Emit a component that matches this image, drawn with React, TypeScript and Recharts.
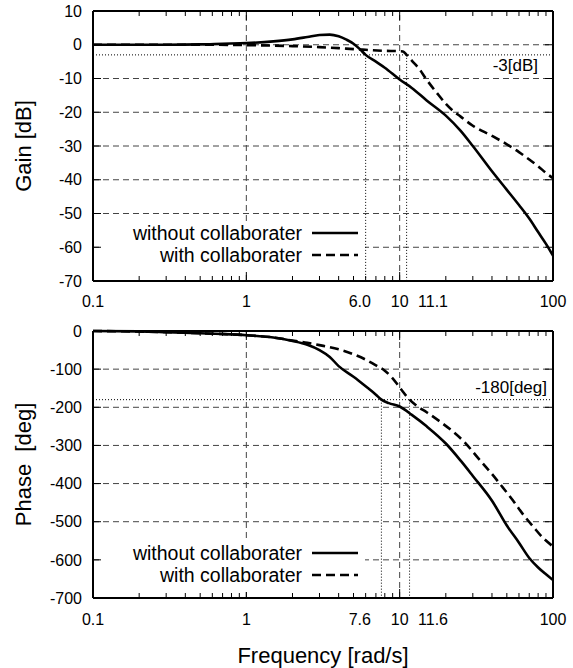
import React from "react";
import { CartesianGrid, Legend, Line, LineChart, ReferenceLine, XAxis, YAxis } from "recharts";

const FONT = '"Liberation Sans", Arial, Helvetica, sans-serif';

// log frequency axis [rad/s]
const freqDomain = [0.1, 100];
const decadeTicks = [1, 10];
const minorFreqTicks = [0.2, 0.3, 0.4, 0.5, 0.6, 0.7, 0.8, 0.9, 2, 3, 4, 5, 6, 7, 8, 9, 20, 30, 40, 50, 60, 70, 80, 90];
const seriesNames = ["without collaborater", "with collaborater"];

// gain panel
const gainTicks = [10, 0, -10, -20, -30, -40, -50, -60, -70];
const gainLabelPos = [0.1, 1, 5.5, 10, 16.5, 100];
const gainLabels = ["0.1", "1", "6.0", "10", "11.1", "100"];
const gainRef = -3;
const gainCrossings = [6.0, 11.1];

const gainFreqWithout = [0.1, 0.2, 0.3, 0.5, 0.7, 1, 1.5, 2, 2.5, 3, 3.5, 4, 4.5, 5, 5.5, 6, 7, 8, 10, 12, 15, 20, 25, 30, 40, 50, 60, 70, 80, 90, 100];
const gainWithout = [0, 0, 0, 0.1, 0.3, 0.5, 1.0, 1.6, 2.3, 2.9, 3.0, 2.5, 1.5, 0.3, -1.3, -3, -5, -6.8, -10.3, -12.8, -16.5, -21, -25.5, -30, -37.5, -43, -47.5, -51.5, -55.5, -59, -62.5];

const gainFreqWith = [0.1, 0.5, 1, 2, 3, 4, 5, 6, 8, 10, 10.5, 11.1, 12, 13.6, 14.7, 17.5, 20, 22.3, 25, 30, 40, 50, 60, 70, 80, 90, 100];
const gainWith = [0, 0, -0.1, -0.4, -0.7, -1.0, -1.3, -1.5, -1.8, -1.9, -2.0, -3.0, -4.7, -7.5, -9.8, -14.3, -17.5, -19.6, -21.3, -24, -27, -29.5, -31.8, -34, -36, -38, -39.5];

// phase panel
const phaseTicks = [0, -100, -200, -300, -400, -500, -600, -700];
const phaseLabelPos = [0.1, 1, 5.5, 10, 16.5, 100];
const phaseLabels = ["0.1", "1", "7.6", "10", "11.6", "100"];
const phaseRef = -180;
const phaseCrossings = [7.6, 11.6];

const phaseFreqWithout = [0.1, 0.2, 0.3, 0.5, 0.7, 1, 1.5, 2, 2.5, 3, 3.5, 4, 5, 6, 7, 7.6, 8.5, 10, 12, 15, 20, 25, 30, 40, 50, 60, 70, 80, 90, 100];
const phaseWithout = [0, -1, -3, -6, -8, -11, -17, -26, -36, -50, -68, -92, -120, -145, -167, -180, -189, -198, -220, -250, -295, -340, -380, -445, -510, -555, -595, -620, -638, -653];

const phaseFreqWith = [0.1, 0.3, 0.5, 1, 1.5, 2, 2.5, 3, 4, 5, 6, 7, 8, 9, 10, 11.6, 13, 15, 18.4, 22, 27, 32, 40, 47, 55, 65, 75, 85, 100];
const phaseWith = [0, -3, -6, -11, -17, -25, -31, -37, -48, -61, -75, -90, -104, -124, -148, -180, -197, -213, -238, -262, -295, -330, -375, -410, -445, -485, -515, -540, -565];

const zip = (fs: number[], vs: number[]) => fs.map((f, i) => ({ f, v: vs[i] }));

const PLOT_W = 460;
const X_MARGIN = 15;
const Y_MARGIN = 11;
const logAxis = {
  type: "number" as const,
  scale: "log" as const,
  domain: freqDomain,
  allowDataOverflow: true,
  dataKey: "f",
  interval: 0 as const,
};
const frame = { stroke: "#000", strokeWidth: 2 };
const dotted = { stroke: "#000", strokeWidth: 1, strokeDasharray: "1 2" };
const gridStyle = { stroke: "#444", strokeWidth: 1, strokeDasharray: "6 4" };

function LegendBox({ payload }: any) {
  const rows = [...(payload || [])].sort(
    (a: any, b: any) => seriesNames.indexOf(a.value) - seriesNames.indexOf(b.value)
  );
  return (
    <div style={{ background: "#fff", width: 262, height: 50, fontFamily: FONT, fontSize: 19.5, color: "#000" }}>
      {rows.map((entry: any) => (
        <div
          key={entry.value}
          style={{ display: "flex", alignItems: "center", justifyContent: "flex-end", height: 22, paddingRight: 7 }}
        >
          <span style={{ marginRight: 10, lineHeight: "22px", whiteSpace: "nowrap" }}>{entry.value}</span>
          <svg width={46} height={10}>
            <line x1={0} x2={46} y1={5} y2={5} stroke="#000" strokeWidth={2.6} strokeDasharray={entry.payload?.strokeDasharray} />
          </svg>
        </div>
      ))}
    </div>
  );
}

type PanelProps = {
  height: number;
  plotHeight: number;
  xAxisHeight: number;
  bottomMargin: number;
  tickMargin: number;
  yTicks: number[];
  labelPos: number[];
  labels: string[];
  yTitle: string;
  xTitle?: string;
  solid: { f: number; v: number }[];
  dashed: { f: number; v: number }[];
  refY: number;
  refText: string;
  refBelow: boolean;
  crossings: number[];
};

function BodePanel(p: PanelProps) {
  const yMin = p.yTicks[p.yTicks.length - 1];
  const yMax = p.yTicks[0];
  const yDomain = [yMin, yMax];
  const xTicks = Array.from(new Set([...p.labelPos, ...minorFreqTicks, ...decadeTicks])).sort((a, b) => a - b);

  // frequency tick: label (if any) plus gnuplot-style inward marks on bottom and top edges
  const FreqTick = (props: any) => {
    const v = props.payload.value;
    const base = props.y - p.tickMargin;
    const top = base - p.plotHeight;
    const len = decadeTicks.includes(v) ? 9 : minorFreqTicks.includes(v) ? 5 : 0;
    const li = p.labelPos.indexOf(v);
    return (
      <g>
        {len > 0 && <line x1={props.x} x2={props.x} y1={base} y2={base - len} stroke="#000" strokeWidth={1} />}
        {len > 0 && <line x1={props.x} x2={props.x} y1={top} y2={top + len} stroke="#000" strokeWidth={1} />}
        {li >= 0 && (
          <text x={props.x} y={props.y} dy="0.71em" textAnchor="middle" fontFamily={FONT} fontSize={16} fill="#000">
            {p.labels[li]}
          </text>
        )}
      </g>
    );
  };

  // value tick: label plus inward marks on left and right edges
  const ValueTick = (props: any) => {
    const v = props.payload.value;
    const left = props.x + Y_MARGIN;
    const inner = v !== yMin && v !== yMax;
    return (
      <g>
        {inner && <line x1={left} x2={left + 8} y1={props.y} y2={props.y} stroke="#000" strokeWidth={1} />}
        {inner && <line x1={left + PLOT_W - 8} x2={left + PLOT_W} y1={props.y} y2={props.y} stroke="#000" strokeWidth={1} />}
        <text x={props.x} y={props.y} dy="0.355em" textAnchor="end" fontFamily={FONT} fontSize={16} fill="#000">
          {v}
        </text>
      </g>
    );
  };

  return (
    <LineChart width={573} height={p.height} margin={{ top: 11, right: 20, bottom: p.bottomMargin, left: 33 }}>
      <CartesianGrid vertical={false} {...gridStyle} />
      {decadeTicks.map((f) => (
        <ReferenceLine key={`g${f}`} x={f} {...gridStyle} />
      ))}
      <XAxis
        {...logAxis}
        ticks={xTicks}
        height={p.xAxisHeight}
        tickLine={false}
        tickSize={0}
        tickMargin={p.tickMargin}
        axisLine={frame}
        tick={FreqTick}
        label={
          p.xTitle
            ? (props: any) => (
                <text
                  x={props.viewBox.x + props.viewBox.width / 2}
                  y={props.viewBox.y + 65}
                  textAnchor="middle"
                  fontFamily={FONT}
                  fontSize={22}
                  fill="#000"
                >
                  {p.xTitle}
                </text>
              )
            : undefined
        }
      />
      <YAxis
        type="number"
        domain={yDomain}
        ticks={p.yTicks}
        interval={0}
        width={60}
        tickLine={false}
        tickSize={0}
        tickMargin={Y_MARGIN}
        axisLine={frame}
        tick={ValueTick}
        label={(props: any) => {
          const cx = 31;
          const cy = props.viewBox.y + props.viewBox.height / 2;
          return (
            <text
              transform={`translate(${cx},${cy}) rotate(-90)`}
              textAnchor="middle"
              fontFamily={FONT}
              fontSize={22}
              fill="#000"
              style={{ whiteSpace: "pre" }}
            >
              {p.yTitle}
            </text>
          );
        }}
      />

      {/* frame: top and right edges */}
      <ReferenceLine y={yMax} {...frame} />
      <ReferenceLine x={freqDomain[1]} {...frame} />

      <ReferenceLine
        y={p.refY}
        {...dotted}
        label={(props: any) => {
          const vb = props.viewBox;
          return (
            <text
              x={vb.x + vb.width - (p.refBelow ? 15 : 6)}
              y={p.refBelow ? vb.y + 16 : vb.y - 7}
              textAnchor="end"
              fontFamily={FONT}
              fontSize={17}
              fill="#000"
            >
              {p.refText}
            </text>
          );
        }}
      />
      {p.crossings.map((f) => (
        <ReferenceLine
          key={f}
          segment={[
            { x: f, y: p.refY },
            { x: f, y: yMin },
          ]}
          {...dotted}
        />
      ))}

      <Line
        data={p.solid}
        dataKey="v"
        name={seriesNames[0]}
        type="monotone"
        stroke="#000"
        strokeWidth={2.6}
        dot={false}
        isAnimationActive={false}
      />
      <Line
        data={p.dashed}
        dataKey="v"
        name={seriesNames[1]}
        type="monotone"
        stroke="#000"
        strokeWidth={2.6}
        strokeDasharray="9 5"
        dot={false}
        isAnimationActive={false}
      />
      <Legend
        content={<LegendBox />}
        layout="horizontal"
        verticalAlign="middle"
        align="center"
        wrapperStyle={{ left: 103, top: 222, width: 262, height: 50 }}
      />
    </LineChart>
  );
}

export default function App() {
  return (
    <div style={{ position: "absolute", left: 0, top: 0, width: 573, height: 668, background: "#fff" }}>
      <div style={{ position: "absolute", left: 0, top: 0 }}>
        <BodePanel
          height={320}
          plotHeight={270}
          xAxisHeight={30}
          bottomMargin={9}
          tickMargin={X_MARGIN}
          yTicks={gainTicks}
          labelPos={gainLabelPos}
          labels={gainLabels}
          yTitle="Gain [dB]"
          solid={zip(gainFreqWithout, gainWithout)}
          dashed={zip(gainFreqWith, gainWith)}
          refY={gainRef}
          refText="-3[dB]"
          refBelow
          crossings={gainCrossings}
        />
      </div>
      <div style={{ position: "absolute", left: 0, top: 320 }}>
        <BodePanel
          height={348}
          plotHeight={267}
          xAxisHeight={62}
          bottomMargin={8}
          tickMargin={X_MARGIN + 1}
          yTicks={phaseTicks}
          labelPos={phaseLabelPos}
          labels={phaseLabels}
          yTitle={"Phase\u00a0 [deg]"}
          xTitle="Frequency [rad/s]"
          solid={zip(phaseFreqWithout, phaseWithout)}
          dashed={zip(phaseFreqWith, phaseWith)}
          refY={phaseRef}
          refText="-180[deg]"
          refBelow={false}
          crossings={phaseCrossings}
        />
      </div>
    </div>
  );
}
